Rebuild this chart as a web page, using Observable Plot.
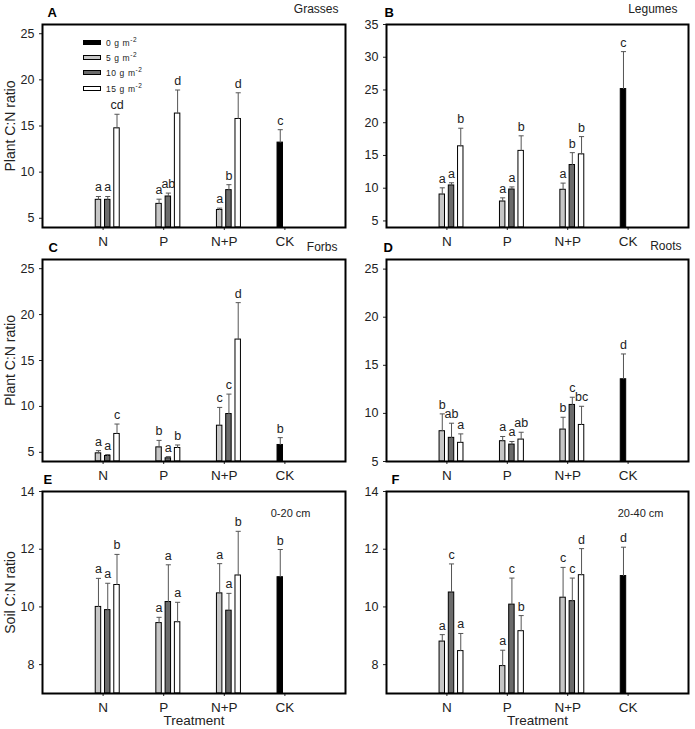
<!DOCTYPE html>
<html>
<head>
<meta charset="utf-8">
<script src="https://cdn.jsdelivr.net/npm/d3@7"></script>
<script src="https://cdn.jsdelivr.net/npm/@observablehq/plot@0.6"></script>
<style>
  html, body { margin: 0; padding: 0; background: #fff; }
  #fig { position: relative; width: 695px; height: 729px; font-family: "Liberation Sans", Arial, sans-serif; overflow: hidden; }
  .panel { position: absolute; }
  .panel svg { overflow: visible; }
  g[aria-label^="x-axis"] text { font-size: 13.5px; }
  g[aria-label^="y-axis"] text { font-size: 12.5px; }
  .legend { position: absolute; left: 83px; top: 38px; font-size: 8.5px; letter-spacing: 0.6px; color: #222; }
  .legend .row { position: absolute; left: 0; height: 10px; white-space: nowrap; }
  .legend .sw { position: absolute; left: 0; top: 2px; width: 18px; height: 5px; border: 1px solid #000; box-sizing: border-box; }
  .legend .lab { position: absolute; left: 23px; top: 0; line-height: 10px; }
  .legend sup { font-size: 6.5px; vertical-align: 4px; line-height: 0; }
</style>
</head>
<body>
<div id="fig"></div>
<script>
// ---------- data ----------
const treatments = ["N", "P", "N+P", "CK"];
const doses = ["0", "5", "10", "15"];
const doseColors = ["#000000", "#c6c6c6", "#6b6b6b", "#ffffff"];

const barTreatment = ["N", "N", "N", "P", "P", "P", "N+P", "N+P", "N+P", "CK"];
const barDose      = ["5", "10", "15", "5", "10", "15", "5", "10", "15", "0"];

// A Grasses
const grassesMean    = [7.0, 7.0, 14.75, 6.56, 7.36, 16.35, 5.9, 8.05, 15.76, 13.2];
const grassesSE      = [0.36, 0.36, 1.52, 0.51, 0.37, 2.55, 0.2, 0.59, 2.84, 1.4];
const grassesLetters = ["a", "a", "cd", "a", "ab", "d", "a", "b", "d", "c"];
// B Legumes
const legumesMean    = [9.04, 10.42, 16.4, 7.97, 9.8, 15.7, 9.76, 13.54, 15.17, 25.14];
const legumesSE      = [1.02, 0.41, 2.76, 0.56, 0.4, 2.3, 1.02, 1.89, 2.71, 5.72];
const legumesLetters = ["a", "a", "b", "a", "a", "b", "a", "b", "b", "c"];
// C Forbs
const forbsMean    = [4.89, 4.6, 7.0, 5.54, 4.35, 5.47, 7.9, 9.17, 17.28, 5.8];
const forbsSE      = [0.29, 0.15, 1.08, 0.76, 0.18, 0.33, 1.99, 2.17, 4.02, 0.8];
const forbsLetters = ["a", "a", "c", "b", "a", "b", "c", "c", "d", "b"];
// D Roots
const rootsMean    = [8.15, 7.46, 6.94, 7.11, 6.76, 7.28, 8.32, 10.88, 8.8, 13.55];
const rootsSE      = [1.8, 1.52, 0.93, 0.49, 0.32, 0.76, 1.28, 0.8, 1.94, 2.63];
const rootsLetters = ["b", "ab", "a", "a", "a", "ab", "b", "c", "bc", "d"];
// E Soil 0-20 cm
const soil020Mean    = [10.0, 9.89, 10.76, 9.44, 10.17, 9.47, 10.47, 9.87, 11.09, 11.03];
const soil020SE      = [0.99, 0.93, 1.06, 0.2, 1.29, 0.69, 1.03, 0.6, 1.53, 0.96];
const soil020Letters = ["a", "a", "b", "a", "a", "a", "a", "a", "b", "b"];
// F Soil 20-40 cm
const soil2040Mean    = [8.8, 10.5, 8.47, 7.95, 10.08, 9.16, 10.32, 10.2, 11.1, 11.07];
const soil2040SE      = [0.24, 0.99, 0.61, 0.55, 0.92, 0.54, 1.05, 0.8, 0.92, 1.0];
const soil2040Letters = ["a", "c", "a", "a", "c", "b", "c", "c", "d", "d"];

const plantTicks = [5, 10, 15, 20, 25];
const legumeTicks = [5, 10, 15, 20, 25, 30, 35];
const soilTicks = [8, 10, 12, 14];

// ---------- layout ----------
const SLOT = 0.153;   // slot width in x units
const BW = 0.09;      // bar width in x units
const CAP = 0.042;    // half cap width
const slotOf = {"0": -0.5, "5": -0.5, "10": 0.5, "15": 1.5};

const cols = [
  {left: 0, width: 350, ml: 42, mr: 5},
  {left: 350, width: 345, ml: 36, mr: 7}
];
const rows = [
  {top: 0, height: 250, mt: 24, mb: 23},
  {top: 236, height: 250, mt: 23, mb: 25},
  {top: 468, height: 261, mt: 23, mb: 36}
];

const panels = [
  {col: 0, row: 0, letter: "A", letterDx: 5, title: "Grasses", titleDx: -7, titleDy: -15, ylabel: "Plant C:N ratio",
   domain: [4, 26], ticks: plantTicks, mean: grassesMean, se: grassesSE, letters: grassesLetters},
  {col: 1, row: 0, letter: "B", letterDx: -2, title: "Legumes", titleDx: -11, titleDy: -15,
   domain: [4, 35], ticks: legumeTicks, mean: legumesMean, se: legumesSE, letters: legumesLetters},
  {col: 0, row: 1, letter: "C", letterDx: 6, title: "Forbs", titleDx: -8, titleDy: -12, ylabel: "Plant C:N ratio",
   domain: [4, 26], ticks: plantTicks, mean: forbsMean, se: forbsSE, letters: forbsLetters},
  {col: 1, row: 1, letter: "D", letterDx: -3, title: "Roots", titleDx: -7, titleDy: -13,
   domain: [5, 26], ticks: plantTicks, mean: rootsMean, se: rootsSE, letters: rootsLetters},
  {col: 0, row: 2, letter: "E", letterDx: 1, note: "0-20 cm", noteDx: -35, ylabel: "Soil C:N ratio", xlabel: "Treatment",
   domain: [7, 14], ticks: soilTicks, mean: soil020Mean, se: soil020SE, letters: soil020Letters},
  {col: 1, row: 2, letter: "F", letterDx: 5, note: "20-40 cm", noteDx: -25, xlabel: "Treatment",
   domain: [7, 14], ticks: soilTicks, mean: soil2040Mean, se: soil2040SE, letters: soil2040Letters}
];

const fig = document.getElementById("fig");

function cx(d) {
  return treatments.indexOf(d.t) + 1 + slotOf[d.dose] * SLOT;
}

for (const p of panels) {
  const c = cols[p.col], r = rows[p.row];
  const data = barTreatment.map((t, i) => ({
    t, dose: barDose[i], mean: p.mean[i], se: p.se[i], letter: p.letters[i]
  }));
  const y0 = p.domain[0];
  const marks = [
    Plot.rect(data, {
      x1: d => cx(d) - BW / 2, x2: d => cx(d) + BW / 2,
      y1: () => y0, y2: "mean",
      fill: d => doseColors[doses.indexOf(d.dose)],
      stroke: "#000", strokeWidth: 1
    }),
    Plot.link(data, {x1: cx, x2: cx, y1: "mean", y2: d => d.mean + d.se, stroke: "#555", strokeWidth: 1}),
    Plot.link(data, {x1: d => cx(d) - CAP, x2: d => cx(d) + CAP, y1: d => d.mean + d.se, y2: d => d.mean + d.se, stroke: "#555", strokeWidth: 1}),
    Plot.text(data, {x: cx, y: d => d.mean + d.se, text: "letter", dy: -9, fontSize: 12.5, fill: "#222"}),
    Plot.frame({stroke: "#000", strokeWidth: 2}),
    Plot.text([p.letter], {frameAnchor: "top-left", textAnchor: "start", lineAnchor: "middle", dx: p.letterDx, dy: -12, fontWeight: "bold", fontSize: 13, fill: "#000"})
  ];
  if (p.title) marks.push(Plot.text([p.title], {frameAnchor: "top-right", textAnchor: "end", lineAnchor: "middle", dx: p.titleDx, dy: p.titleDy, fontSize: 12, fill: "#222"}));
  if (p.note) marks.push(Plot.text([p.note], {frameAnchor: "top-right", textAnchor: "end", lineAnchor: "middle", dx: p.noteDx, dy: 22, fontSize: 11, fill: "#222"}));
  if (p.ylabel) marks.push(Plot.text([p.ylabel], {frameAnchor: "left", textAnchor: "middle", lineAnchor: "middle", rotate: -90, dx: -32, fontSize: 14, fill: "#222"}));
  if (p.xlabel) marks.push(Plot.text([p.xlabel], {frameAnchor: "bottom", textAnchor: "middle", lineAnchor: "middle", dy: 27, fontSize: 13.5, fill: "#222"}));

  const svg = Plot.plot({
    width: c.width, height: r.height,
    marginLeft: c.ml, marginRight: c.mr, marginTop: r.mt, marginBottom: r.mb,
    style: {background: "transparent", overflow: "visible", fontFamily: "'Liberation Sans', Arial, sans-serif", fontSize: "12px", color: "#222"},
    x: {domain: [0, 5], ticks: [1, 2, 3, 4], tickFormat: i => treatments[i - 1], tickSize: 3, tickPadding: 6, label: null},
    y: {domain: p.domain, ticks: p.ticks, tickFormat: v => String(v), tickSize: 3, tickPadding: 5, label: null},
    color: {type: "identity"},
    marks
  });
  const wrap = document.createElement("div");
  wrap.className = "panel";
  wrap.style.left = c.left + "px";
  wrap.style.top = r.top + "px";
  wrap.appendChild(svg);
  fig.appendChild(wrap);
}

// legend (inside panel A)
const legend = document.createElement("div");
legend.className = "legend";
doses.forEach((d, i) => {
  const row = document.createElement("div");
  row.className = "row";
  row.style.top = (i * 15.2) + "px";
  row.innerHTML = `<span class="sw" style="background:${doseColors[i]}"></span><span class="lab">${d} g m<sup>-2</sup></span>`;
  legend.appendChild(row);
});
fig.appendChild(legend);
</script>
</body>
</html>
